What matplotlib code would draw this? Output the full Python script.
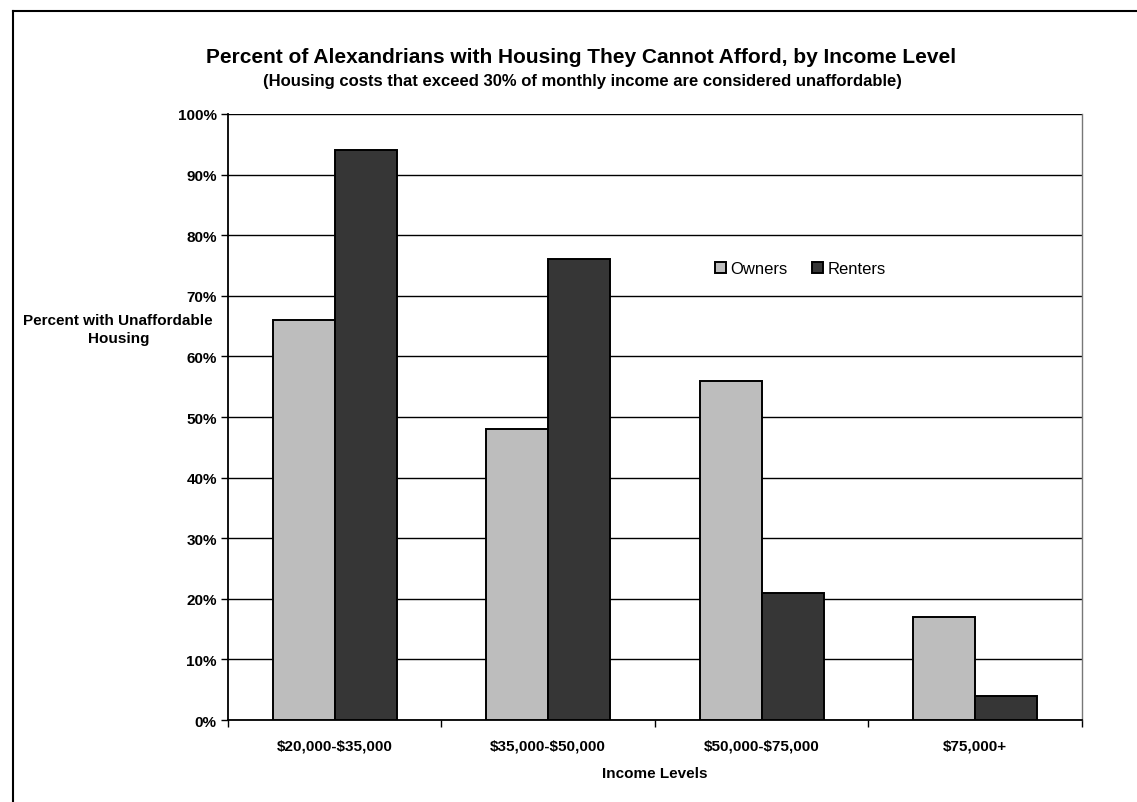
import matplotlib
matplotlib.use("Agg")
import matplotlib.pyplot as plt
import numpy as np

plt.rcParams['font.family'] = ['Liberation Sans', 'DejaVu Sans']
plt.rcParams['font.weight'] = 'bold'
plt.rcParams['text.parse_math'] = False

categories = ['$20,000-$35,000', '$35,000-$50,000', '$50,000-$75,000', '$75,000+']
owners = [66, 48, 56, 17]
renters = [94, 76, 21, 4]
yticks = [0, 10, 20, 30, 40, 50, 60, 70, 80, 90, 100]

fig = plt.figure(figsize=(11.37, 8.03), dpi=100)
ax = fig.add_axes([0.2005, 0.1021, 0.7511, 0.7547])

x = np.arange(len(categories))
w = 0.29
ax.bar(x - w / 2, owners, w, color='#bdbdbd', edgecolor='black', linewidth=1.4,
       label='Owners', zorder=3)
ax.bar(x + w / 2, renters, w, color='#363636', edgecolor='black', linewidth=1.4,
       label='Renters', zorder=3)

ax.set_xlim(-0.5, len(categories) - 0.5)
ax.set_ylim(0, 100)
ax.set_yticks(yticks)
ax.set_yticklabels([f'{v}%' for v in yticks], fontsize=11, fontweight='bold')
ax.yaxis.grid(True, color='black', linewidth=1.0, zorder=0)

# category labels sit between boundary ticks
ax.set_xticks(x)
ax.set_xticklabels(categories, fontsize=11, fontweight='bold')
ax.tick_params(axis='x', length=0, pad=13)
ax.set_xticks(np.arange(len(categories) + 1) - 0.5, minor=True)
ax.tick_params(axis='x', which='minor', length=5, direction='out', width=1)
ax.tick_params(axis='y', length=5, direction='out', width=1, pad=3)

ax.spines['left'].set_linewidth(1.3)
ax.spines['bottom'].set_linewidth(1.3)
ax.spines['top'].set_visible(False)
ax.spines['right'].set_color('#777777')
ax.spines['right'].set_linewidth(1.0)

ax.set_xlabel('Income Levels', fontsize=11, fontweight='bold', labelpad=10)

fig.text(0.104, 0.589, 'Percent with Unaffordable\nHousing', ha='center', va='center',
         fontsize=11, fontweight='bold', linespacing=1.4)

fig.text(0.511, 0.928, 'Percent of Alexandrians with Housing They Cannot Afford, by Income Level',
         ha='center', va='center', fontsize=15, fontweight='bold')
fig.text(0.512, 0.898, '(Housing costs that exceed 30% of monthly income are considered unaffordable)',
         ha='center', va='center', fontsize=12, fontweight='bold')

leg = ax.legend(loc='center', bbox_to_anchor=(0.670, 0.745), ncol=2, frameon=False,
                fontsize=12, handlelength=0.65, handleheight=0.65, columnspacing=1.5,
                handletextpad=0.25)
for t in leg.get_texts():
    t.set_fontweight('normal')

# outer frame (top and left edges visible in the scan)
fig.add_artist(plt.Line2D([13 / 1137, 1.0], [1 - 12 / 803, 1 - 12 / 803],
                          transform=fig.transFigure, color='black', linewidth=1.5))
fig.add_artist(plt.Line2D([13 / 1137, 13 / 1137], [0.0, 1 - 12 / 803],
                          transform=fig.transFigure, color='black', linewidth=1.5))

fig.savefig('out.png', dpi=100)
